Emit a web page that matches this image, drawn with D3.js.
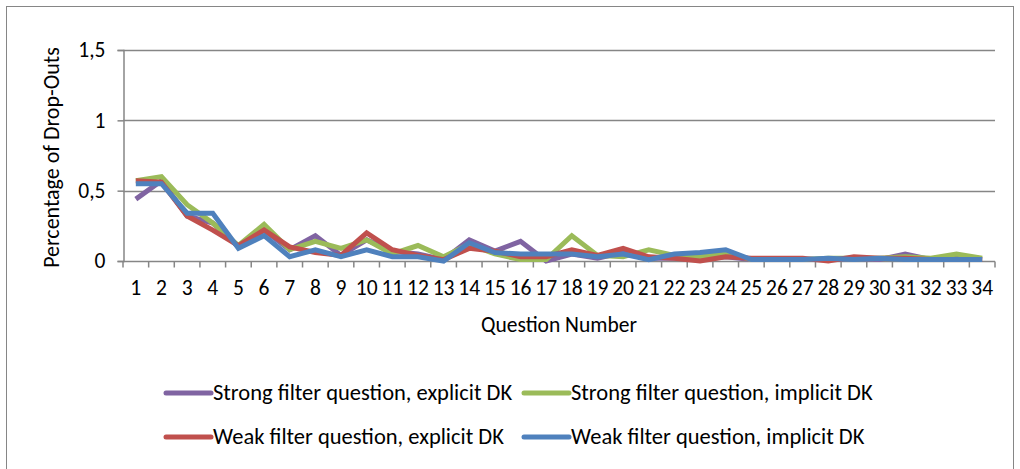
<!DOCTYPE html>
<html>
<head>
<meta charset="utf-8">
<script src="https://cdn.jsdelivr.net/npm/d3@7"></script>
<style>
  html, body { margin: 0; padding: 0; background: #fff; }
  svg { display: block; }
  text { font-family: Carlito, Calibri, "Liberation Sans Narrow", "Open Sans", sans-serif; fill: #000; }
</style>
</head>
<body>
<svg id="chart" width="1020" height="469"></svg>
<script>
// Question numbers along the x axis
const questions = d3.range(1, 35).map(String);

// Drop-out percentages per question, one array per questionnaire version
const strongExplicit = [0.44, 0.57, 0.32, 0.27, 0.10, 0.22, 0.08, 0.18, 0.04, 0.15, 0.07, 0.05, 0.01, 0.15, 0.07, 0.14, 0.00,
                        0.05, 0.02, 0.06, 0.02, 0.02, 0.01, 0.03, 0.01, 0.01, 0.01, 0.01, 0.02, 0.01, 0.05, 0.01, 0.02, 0.01];
const strongImplicit = [0.57, 0.60, 0.40, 0.27, 0.11, 0.26, 0.08, 0.14, 0.09, 0.15, 0.05, 0.11, 0.03, 0.12, 0.05, 0.01, 0.01,
                        0.18, 0.04, 0.03, 0.08, 0.04, 0.03, 0.06, 0.01, 0.01, 0.01, 0.02, 0.02, 0.02, 0.03, 0.02, 0.05, 0.02];
const weakExplicit   = [0.57, 0.56, 0.32, 0.22, 0.11, 0.22, 0.10, 0.06, 0.04, 0.20, 0.08, 0.04, 0.01, 0.09, 0.07, 0.03, 0.03,
                        0.08, 0.04, 0.09, 0.03, 0.02, 0.00, 0.03, 0.02, 0.02, 0.02, 0.00, 0.03, 0.02, 0.02, 0.01, 0.01, 0.01];
const weakImplicit   = [0.55, 0.55, 0.34, 0.34, 0.09, 0.18, 0.03, 0.08, 0.03, 0.08, 0.03, 0.03, 0.00, 0.13, 0.06, 0.05, 0.05,
                        0.05, 0.03, 0.05, 0.01, 0.05, 0.06, 0.08, 0.01, 0.01, 0.01, 0.02, 0.01, 0.02, 0.01, 0.01, 0.01, 0.01];

const seriesNames = [
  "Strong filter question, explicit DK",
  "Strong filter question, implicit DK",
  "Weak filter question, explicit DK",
  "Weak filter question, implicit DK"
];
const seriesColors = ["#8064A2", "#9BBB59", "#C0504D", "#4F81BD"];
const yTicks = [0, 0.5, 1, 1.5];
const yTickLabels = ["0", "0,5", "1", "1,5"];

const series = [strongExplicit, strongImplicit, weakExplicit, weakImplicit].map((vals, i) => ({
  name: seriesNames[i], color: seriesColors[i], values: vals
}));

const svg = d3.select("#chart");
const fs = 21.5;

// Outer chart frame
svg.append("rect")
  .attr("x", 6.5).attr("y", 6.5).attr("width", 1007).attr("height", 470)
  .attr("fill", "none").attr("stroke", "#868686").attr("stroke-width", 1);

const plot = { left: 123, right: 995, top: 50, bottom: 261 };

const x = d3.scaleBand().domain(questions).range([plot.left, plot.right]).padding(0);
const y = d3.scaleLinear().domain([0, 1.5]).range([plot.bottom, plot.top]);

// Horizontal gridlines
svg.append("g")
  .selectAll("line")
  .data(yTicks.filter(d => d > 0))
  .join("line")
  .attr("x1", plot.left).attr("x2", plot.right)
  .attr("y1", d => Math.round(y(d)) + 0.5).attr("y2", d => Math.round(y(d)) + 0.5)
  .attr("stroke", "#868686").attr("stroke-width", 1.5);

// Y axis
const yAxis = d3.axisLeft(y).tickValues(yTicks)
  .tickFormat((d, i) => yTickLabels[i]).tickSize(6).tickPadding(12);
const gy = svg.append("g").attr("transform", `translate(${plot.left + 0.5},0)`).call(yAxis);
gy.select(".domain").attr("stroke", "#868686").attr("stroke-width", 1.5);
gy.selectAll(".tick line").attr("stroke", "#868686").attr("stroke-width", 1.5);
gy.selectAll(".tick text").attr("font-size", fs).style("font-family", null);

// X axis: tick marks sit on the category boundaries, labels in the middle
const gx = svg.append("g").attr("transform", `translate(0,${plot.bottom + 0.5})`);
gx.append("line")
  .attr("x1", plot.left).attr("x2", plot.right)
  .attr("stroke", "#868686").attr("stroke-width", 1.5);
const boundaries = questions.map(q => x(q)).concat([x(questions[questions.length - 1]) + x.bandwidth()]);
gx.selectAll("line.tk")
  .data(boundaries)
  .join("line").attr("class", "tk")
  .attr("x1", d => d).attr("x2", d => d).attr("y1", 0).attr("y2", 6)
  .attr("stroke", "#868686").attr("stroke-width", 1.5);
gx.selectAll("text")
  .data(questions)
  .join("text")
  .attr("x", d => x(d) + x.bandwidth() / 2)
  .attr("y", 33)
  .attr("text-anchor", "middle")
  .attr("font-size", fs)
  .text(d => d);

// Axis titles
svg.append("text")
  .attr("transform", `translate(59,${(plot.top + plot.bottom) / 2 + 2}) rotate(-90)`)
  .attr("text-anchor", "middle").attr("font-size", 22)
  .text("Percentage of Drop-Outs");
svg.append("text")
  .attr("x", (plot.left + plot.right) / 2).attr("y", 332)
  .attr("text-anchor", "middle").attr("font-size", fs)
  .text("Question Number");

// Series lines
const line = d3.line()
  .x((d, i) => x(questions[i]) + x.bandwidth() / 2)
  .y(d => y(d));
svg.append("g")
  .selectAll("path")
  .data(series)
  .join("path")
  .attr("d", d => line(d.values))
  .attr("fill", "none")
  .attr("stroke", d => d.color)
  .attr("stroke-width", 5)
  .attr("stroke-linejoin", "miter")
  .attr("stroke-linecap", "butt");

// Legend in two rows of two
const legendPos = [[166, 393], [524, 393], [166, 437], [524, 437]];
const lg = svg.append("g").selectAll("g")
  .data(series)
  .join("g")
  .attr("transform", (d, i) => `translate(${legendPos[i][0]},${legendPos[i][1]})`);
lg.append("line")
  .attr("x1", 0).attr("x2", 45).attr("y1", 0).attr("y2", 0)
  .attr("stroke", d => d.color).attr("stroke-width", 5).attr("stroke-linecap", "round");
lg.append("text")
  .attr("x", 47).attr("y", 7)
  .attr("font-size", 22.5)
  .text(d => d.name);
</script>
</body>
</html>
